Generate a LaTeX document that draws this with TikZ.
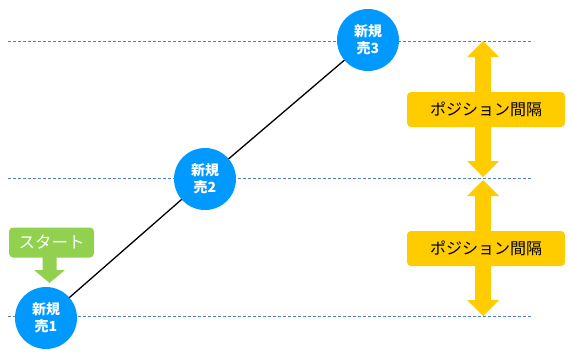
\documentclass[tikz,border=0pt]{standalone}
\usepackage{fontspec}
\setmainfont{Noto Sans CJK JP}
\definecolor{cblue}{HTML}{0099FF}
\definecolor{cgreen}{HTML}{92D050}
\definecolor{cyel}{HTML}{FFCC00}
\definecolor{dline}{HTML}{4F81BD}
\pgfdeclarelayer{bg}
\pgfsetlayers{bg,main}
\tikzset{
  x=1pt, y=-1pt,
  posnode/.style={circle, fill=cblue, minimum size=62pt, inner sep=0pt, text=white, font=\fontsize{14}{17}\selectfont\bfseries, align=center},
  gap/.style={draw=dline, dash pattern=on 3pt off 2pt, line width=0.6pt},
  ybox/.style={rounded corners=4pt, fill=cyel, minimum width=158pt, minimum height=35pt, inner sep=0pt, font=\fontsize{16}{17}\selectfont},
  gbox/.style={rounded corners=4pt, fill=cgreen, minimum width=85pt, minimum height=30pt, inner sep=0pt, text=white, font=\fontsize{16.5}{17}\selectfont},
}
\begin{document}
\begin{tikzpicture}
\useasboundingbox (0,0) rectangle (569,353);
% dashed level lines
\coordinate (l1a) at (8,41); \coordinate (l1b) at (531,41);
\coordinate (l2a) at (8,178); \coordinate (l2b) at (531,178);
\coordinate (l3a) at (8,316); \coordinate (l3b) at (531,316);
\draw[gap] (l1a) -- (l1b);
\draw[gap] (l2a) -- (l2b);
\draw[gap] (l3a) -- (l3b);
% circles
\node[posnode] (p1) at (46,318) {新規\\売1};
\node[posnode] (p2) at (205,179) {新規\\売2};
\node[posnode] (p3) at (368,40) {新規\\売3};
\begin{pgfonlayer}{bg}
\draw[line width=1.3pt] (p1.center) -- (p2.center) -- (p3.center);
\end{pgfonlayer}
% start
\node[gbox] (st) at (51.5,242.5) {スタート};
\fill[cgreen] (42.5,257) -- (56.5,257) -- (56.5,270) -- (65,270) -- (49.5,283) -- (34,270) -- (42.5,270) -- cycle;
% yellow double arrows
\foreach \t/\b in {41/177, 180/316}{
  \fill[cyel] (483,\t) -- (499,\t+16) -- (491,\t+16) -- (491,\b-16) -- (499,\b-16) -- (483,\b) -- (467,\b-16) -- (475,\b-16) -- (475,\t+16) -- (467,\t+16) -- cycle;
}
\node[ybox] (g1) at (486,109.5) {ポジション間隔};
\node[ybox] (g2) at (486,248.5) {ポジション間隔};
\end{tikzpicture}
\end{document}
